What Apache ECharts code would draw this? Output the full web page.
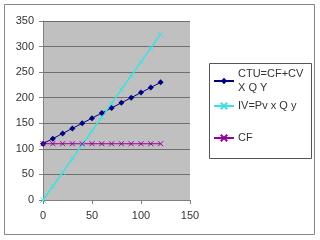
<!DOCTYPE html>
<html><head><meta charset="utf-8">
<script src="https://cdn.jsdelivr.net/npm/echarts@6/dist/echarts.min.js"></script>
<style>html,body{margin:0;padding:0;background:#fff}#c{width:320px;height:240px}</style>
</head><body><div id="c"></div>
<script>
var xValues = [0,10,20,30,40,50,60,70,80,90,100,110,120];
var ctu = [110,120,130,140,150,160,170,180,190,200,210,220,230];
var iv = [0,27,54,81,108,135,162,189,216,243,270,297,324];
var cf = [110,110,110,110,110,110,110,110,110,110,110,110,110];
var seriesNames = ['CTU=CF+CV\nX Q Y','IV=Pv x Q y','CF'];
var xTicks = {min:0,max:150,interval:50};
var yTicks = {min:0,max:350,interval:50};

function pairs(ys){return xValues.map(function(x,i){return [x,ys[i]];});}
var xMark = 'path://M0,0L10,10M10,0L0,10';
var chart = echarts.init(document.getElementById('c'),null,{renderer:'canvas'});
var font = {fontFamily:'Liberation Sans, Arial, sans-serif',fontSize:11,color:'#333'};
var legendTops = [67,99,131];
var legends = seriesNames.map(function(n,i){
  return {orient:'vertical',left:213,top:legendTops[i],padding:0,itemGap:0,
    itemWidth:20,itemHeight:8,
    textStyle:Object.assign({lineHeight:14,padding:[0,0,0,-1],verticalAlign:'top'},font),
    data:[n]};
});
chart.setOption({
  animation:false,
  backgroundColor:'#fff',
  grid:{left:43,right:130,top:21,bottom:40,show:true,backgroundColor:'#c0c0c0',borderWidth:0},
  xAxis:{type:'value',min:xTicks.min,max:xTicks.max,interval:xTicks.interval,
    axisLine:{show:true,onZero:false,lineStyle:{color:'#808080'}},
    axisTick:{show:true,length:4,lineStyle:{color:'#808080'}},
    axisLabel:Object.assign({margin:10},font),splitLine:{show:false}},
  yAxis:{type:'value',min:yTicks.min,max:yTicks.max,interval:yTicks.interval,
    axisLine:{show:true,lineStyle:{color:'#808080'}},
    axisTick:{show:true,length:4,lineStyle:{color:'#808080'}},
    axisLabel:Object.assign({margin:9},font),
    splitLine:{show:true,lineStyle:{color:'#6e6e6e',width:1}}},
  legend:legends,
  graphic:[
    {type:'rect',shape:{x:4.5,y:4.5,width:310,height:230},style:{fill:'none',stroke:'#888',lineWidth:1},z:-1},
    {type:'rect',shape:{x:209.5,y:63.5,width:102,height:95},style:{fill:'none',stroke:'#555',lineWidth:1},z:-1}
  ],
  series:[
    {name:seriesNames[0],type:'line',data:pairs(ctu),symbol:'diamond',symbolSize:6,
     lineStyle:{color:'#000080',width:1},itemStyle:{color:'#000080'}},
    {name:seriesNames[1],type:'line',data:pairs(iv),symbol:xMark,symbolSize:5,
     lineStyle:{color:'#40e0e0',width:1.5},itemStyle:{color:'none',borderColor:'#40e0e0',borderWidth:1}},
    {name:seriesNames[2],type:'line',data:pairs(cf),symbol:xMark,symbolSize:5,
     lineStyle:{color:'#990099',width:1},itemStyle:{color:'none',borderColor:'#990099',borderWidth:1}}
  ]
});
</script></body></html>
